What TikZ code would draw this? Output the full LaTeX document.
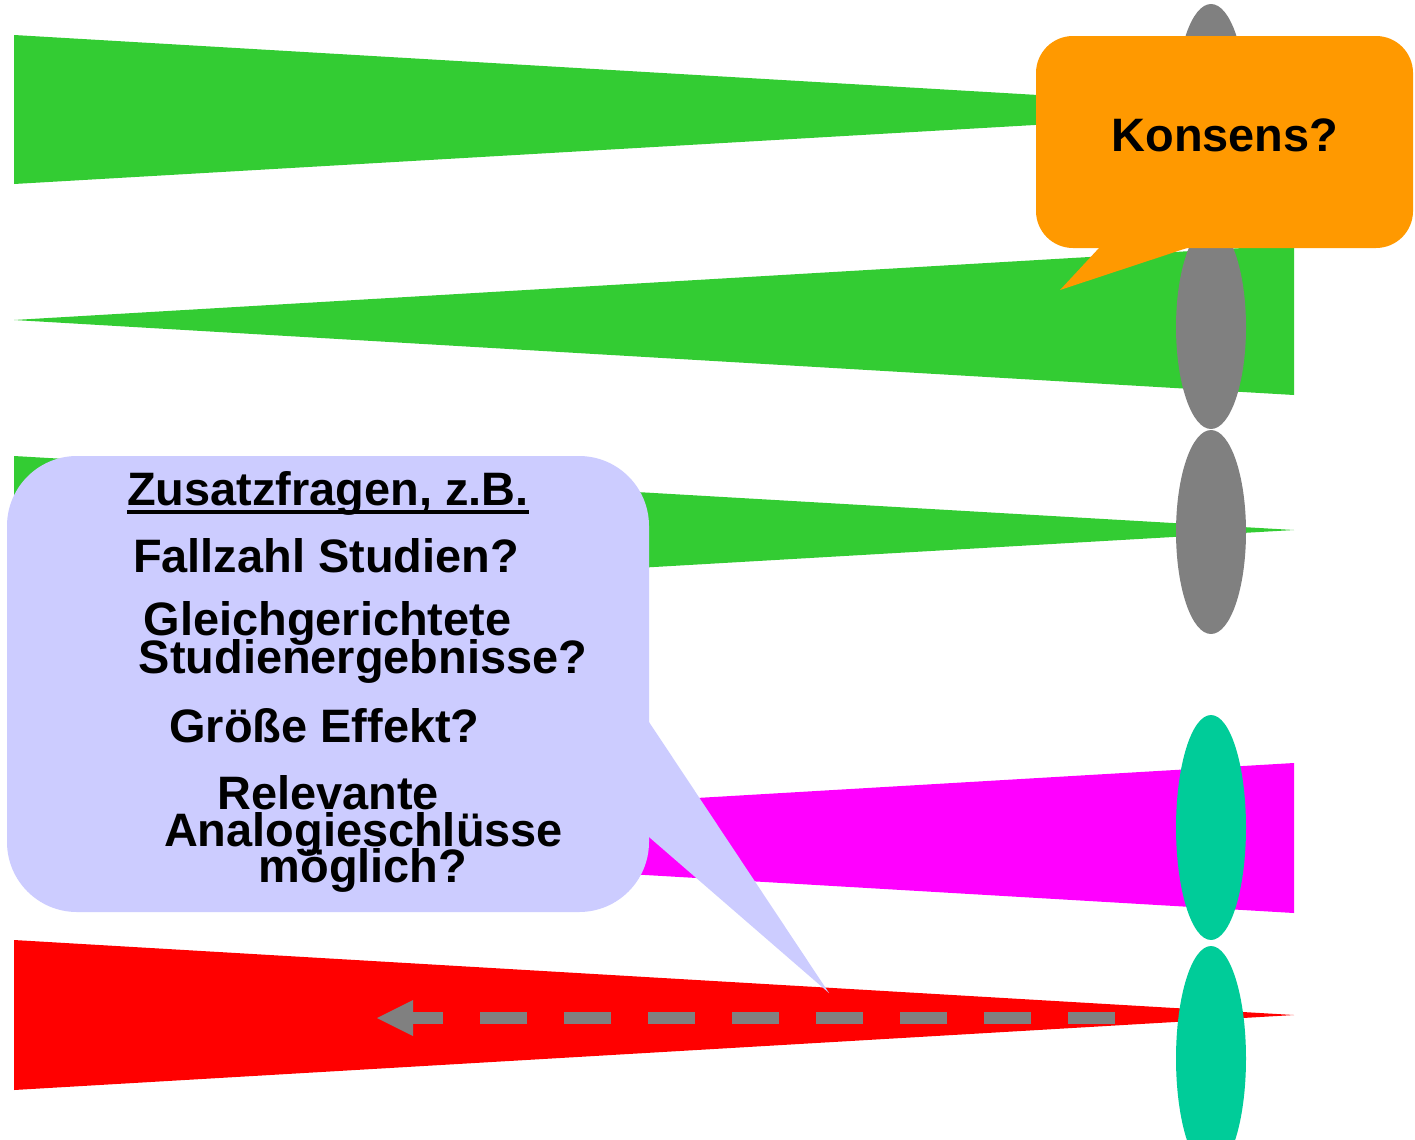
\documentclass[tikz,border=0pt]{standalone}
\usepackage{fontspec}
\setmainfont{Liberation Sans}
\usepackage{tikz}
\usetikzlibrary{arrows.meta,shapes.geometric}
\definecolor{wedgegreen}{HTML}{33CC33}
\definecolor{wedgepink}{HTML}{FF00FF}
\definecolor{wedgered}{HTML}{FF0000}
\definecolor{lensgray}{HTML}{808080}
\definecolor{lensteal}{HTML}{00CC99}
\definecolor{calloutorange}{HTML}{FF9900}
\definecolor{calloutblue}{HTML}{CCCCFF}

\begin{document}
\begin{tikzpicture}[x=0.02cm,y=-0.02cm]
\clip (0,0) rectangle (1415,1139);
\fill[white] (0,0) rectangle (1415,1139);

% wedges
\fill[wedgegreen] (14,35) -- (1294,110) -- (14,184) -- cycle;
\fill[wedgegreen] (14,320) -- (1294,245) -- (1294,395) -- cycle;
\fill[wedgegreen] (14,456) -- (1294,530) -- (14,604) -- cycle;
\fill[wedgepink] (14,838) -- (1294,763) -- (1294,913) -- cycle;
\fill[wedgered] (14,940) -- (1294,1015) -- (14,1090) -- cycle;

% lenses
\begin{scope}[every node/.style={ellipse,inner sep=0pt,minimum width=1.4cm}]
    \node (G1)[fill=lensgray,minimum height=4.08cm] at (1211,106) {};
    \node (G2)[fill=lensgray,minimum height=4.08cm] at (1211,327) {};
    \node (G3)[fill=lensgray,minimum height=4.08cm] at (1211,532) {};
    \node (T1)[fill=lensteal,minimum height=4.5cm] at (1211,827.5) {};
    \node (T2)[fill=lensteal,minimum height=4.5cm] at (1211,1058.5) {};
\end{scope}

% callouts
\fill[calloutorange,rounded corners=0.74cm] (1036,36) rectangle (1413,248);
\fill[calloutorange] (1099,240) -- (1099,248) -- (1060,290) -- (1187,248) -- (1187,240) -- cycle;
\fill[calloutblue,rounded corners=1.4cm] (7,456) rectangle (649,912);
\fill[calloutblue] (640,722) -- (649,722) -- (829,993) -- (649,837) -- (640,837) -- cycle;

\begin{scope}[every node/.style={anchor=base,inner sep=0pt,
              font=\bfseries\fontsize{26.7}{32}\selectfont}]
    \node (konsens) at (1225,151) {Konsens?};
    \node (zusatz) at (328,505) {Zusatzfragen, z.B.};
    \node (fallzahl) at (326,572) {Fallzahl Studien?};
    \node (gleich) at (327.5,635) {Gleichgerichtete};
    \node (ergebnis) at (363,673) {Studienergebnisse?};
    \node (groesse) at (324.5,742) {Größe Effekt?};
    \node (relevant) at (328,809) {Relevante};
    \node (analogie) at (363.5,846) {Analogieschlüsse};
    \node (moeglich) at (363,882) {möglich?};
\end{scope}
\draw[line width=0.08cm] ([yshift=-0.14cm]zusatz.base west) -- ([yshift=-0.14cm]zusatz.base east);

% dashed arrow
\coordinate (arrowstart) at (1115,1018);
\coordinate (arrowend) at (377,1018);
\draw[lensgray,line width=0.24cm,dash pattern=on 0.94cm off 0.74cm,
      -{Triangle[length=0.72cm,width=0.72cm,line width=0pt]}] (arrowstart) -- (arrowend);
\end{tikzpicture}
\end{document}
